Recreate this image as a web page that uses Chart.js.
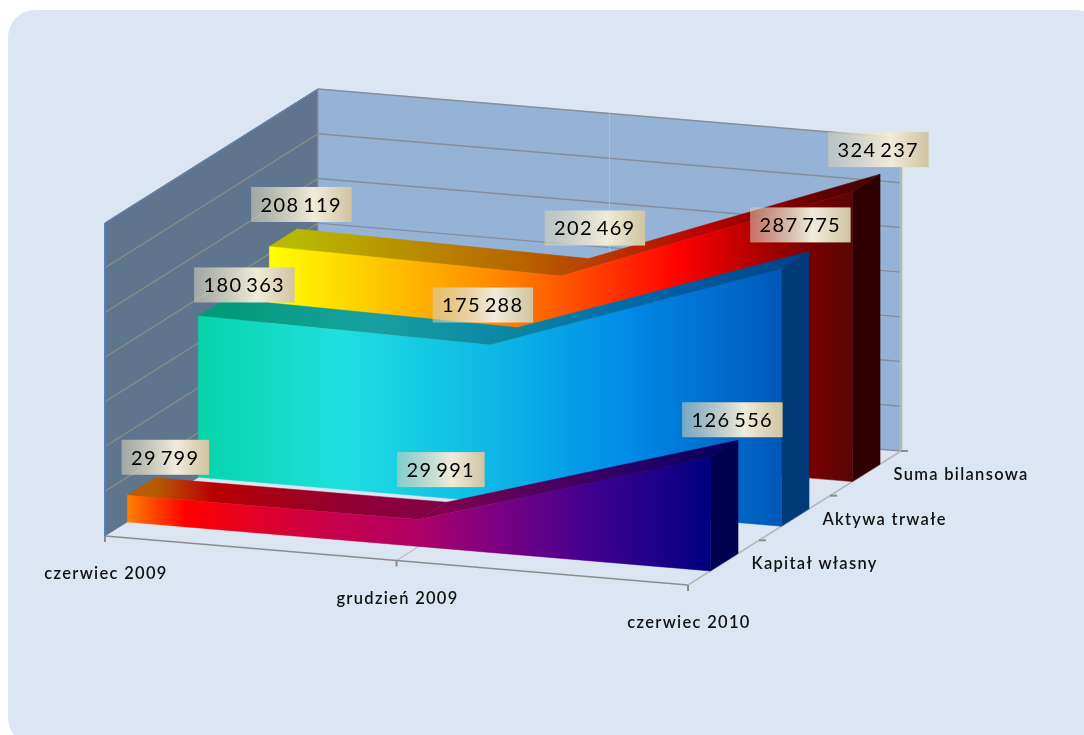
<!DOCTYPE html>
<html lang="pl">
<head>
<meta charset="utf-8">
<title>Kapitał własny, aktywa trwałe, suma bilansowa</title>
<style>
  html, body { margin: 0; padding: 0; background: #fff; }
  #wrap { width: 1084px; height: 735px; position: relative; overflow: hidden; }
  canvas { display: block; }
</style>
<script src="https://cdn.jsdelivr.net/npm/chart.js@4"></script>
</head>
<body>
<div id="wrap"><canvas id="chart" width="1084" height="735"></canvas></div>
<script>
  // values, front series first
  var categories = ["czerwiec 2009", "grudzień 2009", "czerwiec 2010"];
  var seriesNames = ["Kapitał własny", "Aktywa trwałe", "Suma bilansowa"];
  var kapitalWlasny = [29799, 29991, 126556];
  var aktywaTrwale = [180363, 175288, 287775];
  var sumaBilansowa = [208119, 202469, 324237];
  var axisMax = 350000;
  var axisStep = 50000;

  // oblique projection of the 3D box: how far the back of the box is moved
  // on screen, and how much the front edge falls from left to right
  var DEPTH_DX = 213, DEPTH_DY = -134, SLOPE = 49 / 583;
  var SLICE_INSET = 0.105, SLICE_DEPTH = 0.13;

  // per series face colours, gradient runs along the front face
  var FACES = [
    { stops: [[0, "#ff8000"], [0.1, "#ff0000"], [0.3, "#d00040"], [0.5, "#b00068"], [0.62, "#800080"], [0.8, "#400090"], [1, "#000080"]],
      side: "#000050" },
    { stops: [[0, "#05d5a8"], [0.245, "#20dfe0"], [0.55, "#0ab0e6"], [0.75, "#0088e6"], [1, "#0058b8"]],
      side: "#003a78" },
    { stops: [[0, "#ffff00"], [0.38, "#ff8c00"], [0.706, "#ff0000"], [0.93, "#780000"], [1, "#5a0505"]],
      side: "#300000" }
  ];
  // data label box centre relative to the front top corner of its point
  var LABEL_NUDGE = [
    [[38, -38], [22, -50], [22, -38]],
    [[46, -31], [-7, -40], [19, -44]],
    [[32, -42], [34, -48], [26, -42]]
  ];
  var LABEL_FONT = "20px Lato, sans-serif";
  var AXIS_FONT = "600 16.5px Lato, sans-serif";

  function shade(hex, f) {
    var n = parseInt(hex.slice(1), 16);
    return "rgb(" + Math.round((n >> 16) * f) + "," + Math.round(((n >> 8) & 255) * f) + "," + Math.round((n & 255) * f) + ")";
  }
  function poly(ctx, pts, fill) {
    ctx.beginPath();
    pts.forEach(function (p, i) { if (i) ctx.lineTo(p.x, p.y); else ctx.moveTo(p.x, p.y); });
    ctx.closePath();
    ctx.fillStyle = fill;
    ctx.fill();
    // same colour hairline closes the seams between faces
    ctx.strokeStyle = fill;
    ctx.lineWidth = 0.5;
    ctx.stroke();
  }
  function seg(ctx, a, b, color, width) {
    ctx.beginPath();
    ctx.moveTo(a.x, a.y);
    ctx.lineTo(b.x, b.y);
    ctx.strokeStyle = color;
    ctx.lineWidth = width;
    ctx.stroke();
  }
  function spaced(ctx, px, word) {
    if ("letterSpacing" in ctx) { ctx.letterSpacing = px + "px"; ctx.wordSpacing = (word || 0) + "px"; }
  }

  // screen position of (pixel x on front axis, pixel y, depth 0..1)
  function project(area, px, py, depth) {
    return {
      x: px + depth * DEPTH_DX,
      y: py + (px - area.left) * SLOPE + depth * DEPTH_DY
    };
  }

  var box3d = {
    id: "box3d",
    beforeDraw: function (chart) {
      var ctx = chart.ctx, a = chart.chartArea, ys = chart.scales.y, xs = chart.scales.x;
      var base = ys.getPixelForValue(0), top = ys.getPixelForValue(axisMax);
      var L = a.left, R = a.right;
      ctx.save();

      // panel
      ctx.beginPath();
      ctx.roundRect(8, 10, 1095, 735, 27);
      ctx.fillStyle = "#dce6f2";
      ctx.fill();

      // walls
      poly(ctx, [project(a, L, base, 0), project(a, L, top, 0), project(a, L, top, 1), project(a, L, base, 1)], "#5f758e");
      poly(ctx, [project(a, L, base, 1), project(a, L, top, 1), project(a, R, top, 1), project(a, R, base, 1)], "#95b3d7");

      // value gridlines
      ys.ticks.forEach(function (t) {
        var y = ys.getPixelForValue(t.value);
        if (t.value > 0) seg(ctx, project(a, L, y, 0), project(a, L, y, 1), "#8f8f88", 1.2);
        seg(ctx, project(a, L, y, 1), project(a, R, y, 1), "#888e99", 1.4);
      });
      // category gridline on wall and floor
      var mid = xs.getPixelForValue(1);
      seg(ctx, project(a, mid, base, 1), project(a, mid, top, 1), "#b4bfcc", 1);
      seg(ctx, project(a, mid, base, 0), project(a, mid, base, 1), "#b0b0b0", 1);

      // box edges
      seg(ctx, project(a, L, top, 1), project(a, L, base, 1), "#8a8f98", 1.2);
      seg(ctx, project(a, R, top, 1), project(a, R, base, 1), "#b4b8bc", 2.5);
      seg(ctx, project(a, L, base, 0), project(a, L, top, 0), "#4f81bd", 2);
      seg(ctx, project(a, L, top, 0), project(a, L, top, 1), "#4f81bd", 1);

      // axes and ticks
      seg(ctx, project(a, L, base, 0), project(a, R, base, 0), "#8c8c8c", 1.6);
      seg(ctx, project(a, R, base, 0), project(a, R, base, 1), "#b8b8b8", 1.6);
      categories.forEach(function (c, i) {
        var p = project(a, xs.getPixelForValue(i), base, 0);
        seg(ctx, p, { x: p.x, y: p.y + 6 }, "#8c8c8c", 2);
      });
      seriesNames.forEach(function (n, s) {
        var p = project(a, R, base, (s + 1) / seriesNames.length);
        seg(ctx, p, { x: p.x + 7, y: p.y }, "#8c8c8c", 2);
      });

      // axis labels
      ctx.font = AXIS_FONT;
      ctx.fillStyle = "#111";
      ctx.textAlign = "center";
      ctx.textBaseline = "middle";
      spaced(ctx, 1.3);
      categories.forEach(function (c, i) {
        var p = project(a, xs.getPixelForValue(i), base, 0);
        ctx.fillText(c, p.x + 1, p.y + 38);
      });
      ctx.textAlign = "left";
      seriesNames.forEach(function (n, s) {
        var p = project(a, R, base, (s + 0.5) / seriesNames.length);
        ctx.fillText(n, p.x + 28, p.y + 1.5);
      });
      ctx.restore();
    },
    // every mark starts from the point the line controller placed on the scales
    afterDatasetsDraw: function (chart) {
      var ctx = chart.ctx, a = chart.chartArea, ys = chart.scales.y;
      var base = ys.getPixelForValue(0);
      var n = chart.data.datasets.length;
      ctx.save();
      for (var s = n - 1; s >= 0; s--) {
        var pts = chart.getDatasetMeta(s).data, face = FACES[s];
        var f0 = SLICE_INSET + s / n, f1 = f0 + SLICE_DEPTH;
        var front = pts.map(function (p) { return project(a, p.x, p.y, f0); });
        var back = pts.map(function (p) { return project(a, p.x, p.y, f1); });
        var floor = pts.map(function (p) { return project(a, p.x, base, f0); });
        var last = pts.length - 1;

        // end face
        poly(ctx, [front[last], back[last], project(a, pts[last].x, base, f1), floor[last]], face.side);

        var gradFront = ctx.createLinearGradient(front[0].x, 0, front[last].x, 0);
        var gradTop = ctx.createLinearGradient(back[0].x, 0, back[last].x, 0);
        face.stops.forEach(function (st) {
          gradFront.addColorStop(st[0], st[1]);
          gradTop.addColorStop(st[0], shade(st[1], 0.72));
        });
        // top faces, one per segment
        for (var i = 0; i < last; i++) {
          poly(ctx, [front[i], back[i], back[i + 1], front[i + 1]], gradTop);
        }
        poly(ctx, front.concat(floor.slice().reverse()), gradFront);
      }

      // data labels
      ctx.font = LABEL_FONT;
      spaced(ctx, 1.4, -3);
      ctx.textBaseline = "middle";
      ctx.textAlign = "center";
      chart.data.datasets.forEach(function (ds, s) {
        var pts = chart.getDatasetMeta(s).data, f0 = SLICE_INSET + s / n;
        pts.forEach(function (p, i) {
          var q = project(a, p.x, p.y, f0), nudge = LABEL_NUDGE[s][i];
          var text = String(ds.data[i]).replace(/\B(?=(\d{3})+$)/, " ");
          var cx = q.x + nudge[0], cy = q.y + nudge[1];
          var w = ctx.measureText(text).width + 19, h = 35;
          var g = ctx.createLinearGradient(cx - w / 2, 0, cx + w / 2, 0);
          g.addColorStop(0, "rgba(214,208,184,0.55)");
          g.addColorStop(0.62, "rgba(240,235,218,1)");
          g.addColorStop(1, "rgba(208,196,160,1)");
          ctx.fillStyle = g;
          ctx.fillRect(cx - w / 2, cy - h / 2, w, h);
          ctx.fillStyle = "#000";
          ctx.fillText(text, cx, cy + 1);
        });
      });
      ctx.restore();
    }
  };

  new Chart(document.getElementById("chart").getContext("2d"), {
    type: "line",
    data: {
      labels: categories,
      datasets: [
        { label: seriesNames[0], data: kapitalWlasny },
        { label: seriesNames[1], data: aktywaTrwale },
        { label: seriesNames[2], data: sumaBilansowa }
      ]
    },
    options: {
      responsive: false,
      animation: false,
      devicePixelRatio: 1,
      layout: { padding: { left: 105, right: 396, top: 223, bottom: 199 } },
      elements: { point: { radius: 0 }, line: { borderWidth: 0 } },
      datasets: { line: { showLine: false } },
      scales: {
        x: { display: false, offset: false },
        y: { display: false, min: 0, max: axisMax, ticks: { stepSize: axisStep } }
      },
      plugins: { legend: { display: false }, tooltip: { enabled: false } }
    },
    plugins: [box3d]
  });
</script>
</body>
</html>
